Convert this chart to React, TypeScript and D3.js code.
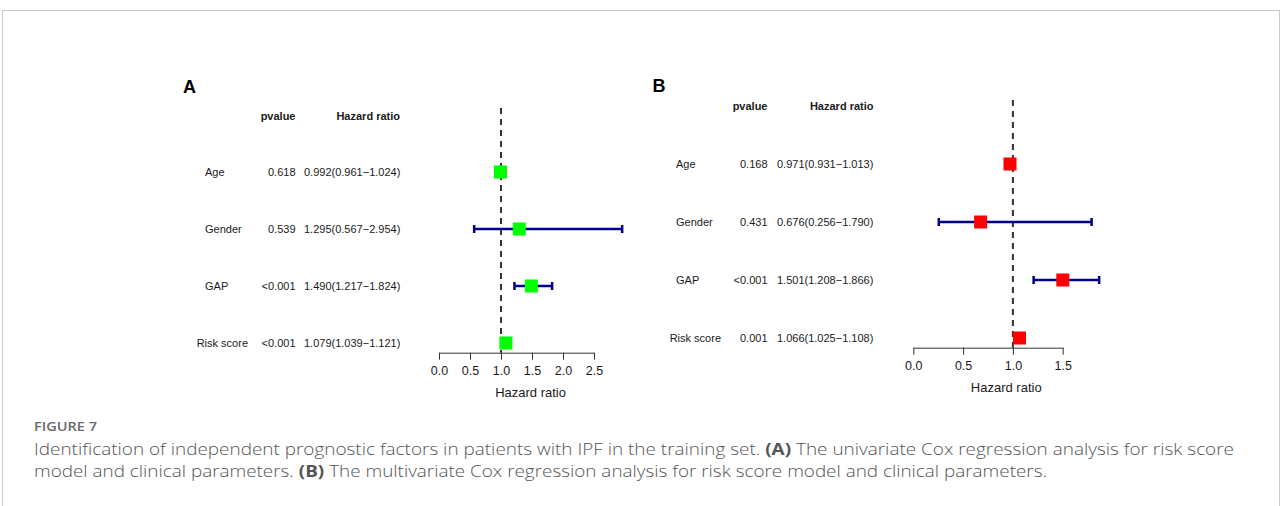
import React, { useEffect, useRef } from 'react';
import * as d3 from 'd3';

// Row labels (same for both panels)
const variables = ['Age', 'Gender', 'GAP', 'Risk score'];

// Panel A: univariate Cox regression
const pvaluesA = ['0.618', '0.539', '<0.001', '<0.001'];
const hrA = [0.992, 1.295, 1.49, 1.079];
const lowA = [0.961, 0.567, 1.217, 1.039];
const highA = [1.024, 2.954, 1.824, 1.121];
const ticksA = [0, 0.5, 1, 1.5, 2, 2.5];

// Panel B: multivariate Cox regression
const pvaluesB = ['0.168', '0.431', '<0.001', '0.001'];
const hrB = [0.971, 0.676, 1.501, 1.066];
const lowB = [0.931, 0.256, 1.208, 1.025];
const highB = [1.013, 1.79, 1.866, 1.108];
const ticksB = [0, 0.5, 1, 1.5];

const W = 1282;
const H = 506;
const FONT = '"Liberation Sans", Arial, sans-serif';

const panels = [
  {
    letter: 'A', pvals: pvaluesA, hr: hrA, low: lowA, high: highA, ticks: ticksA,
    color: '#00ff00', x0: 439, x1: 594, row0: 172, row1: 343, axisY: 352.7,
    labelX: 205, labelMax: 248, pX: 295.5, hrX: 304, hrEnd: 400, headerY: 119.5, letterX: 183, letterY: 92.5,
  },
  {
    letter: 'B', pvals: pvaluesB, hr: hrB, low: lowB, high: highB, ticks: ticksB,
    color: '#ff0000', x0: 913.3, x1: 1062.7, row0: 164, row1: 338, axisY: 347.7,
    labelX: 676, labelMax: 721, pX: 767.5, hrX: 777, hrEnd: 873.5, headerY: 109.5, letterX: 652.5, letterY: 92,
  },
];

const fmt = d3.format('.3f');

export default function App() {
  const svgRef = useRef<SVGSVGElement>(null);

  useEffect(() => {
    const svg = d3.select(svgRef.current);
    svg.selectAll('*').remove();

    // outer frame
    svg.append('rect')
      .attr('x', 2.5).attr('y', 10.5)
      .attr('width', W - 5).attr('height', H + 20)
      .attr('fill', 'white').attr('stroke', '#c8c8c8');

    panels.forEach(p => {
      const tmax = p.ticks[p.ticks.length - 1];
      const x = d3.scaleLinear().domain([0, tmax]).range([p.x0, p.x1]);
      const y = d3.scaleLinear().domain([0, variables.length - 1]).range([p.row0, p.row1]);
      const g = svg.append('g').attr('font-family', FONT).attr('fill', '#1a1a1a');

      g.append('text').attr('x', p.letterX).attr('y', p.letterY)
        .attr('font-size', 18).attr('font-weight', 700).attr('fill', '#000').text(p.letter);

      g.append('text').attr('x', p.pX).attr('y', p.headerY).attr('text-anchor', 'end')
        .attr('font-size', 11).attr('font-weight', 700).text('pvalue');
      g.append('text').attr('x', p.hrEnd).attr('y', p.headerY).attr('text-anchor', 'end')
        .attr('font-size', 11).attr('font-weight', 700).text('Hazard ratio');

      variables.forEach((v, i) => {
        const ty = y(i) + 4;
        const lab = g.append('text').attr('x', p.labelX).attr('y', ty).attr('font-size', 11).text(v);
        // long labels are pulled left so they end before the p-value column
        const w = (lab.node() as SVGTextElement).getComputedTextLength();
        if (p.labelX + w > p.labelMax) lab.attr('x', p.labelMax - w);
        g.append('text').attr('x', p.pX).attr('y', ty).attr('text-anchor', 'end')
          .attr('font-size', 11).text(p.pvals[i]);
        g.append('text').attr('x', p.hrX).attr('y', ty).attr('font-size', 11)
          .text(`${fmt(p.hr[i])}(${fmt(p.low[i])}\u2212${fmt(p.high[i])})`);
      });

      // reference line at HR = 1
      g.append('line')
        .attr('x1', x(1)).attr('x2', x(1))
        .attr('y1', p.row0 - 64).attr('y2', p.axisY)
        .attr('stroke', '#333').attr('stroke-width', 2).attr('stroke-dasharray', '6,5');

      // confidence intervals
      variables.forEach((v, i) => {
        const cy = y(i);
        const ci = g.append('g').attr('stroke', '#00008b').attr('stroke-width', 2.5);
        ci.append('line').attr('x1', x(p.low[i])).attr('x2', x(p.high[i]))
          .attr('y1', cy).attr('y2', cy);
        [p.low[i], p.high[i]].forEach(e => {
          ci.append('line').attr('x1', x(e)).attr('x2', x(e))
            .attr('y1', cy - 4).attr('y2', cy + 4);
        });
        g.append('rect')
          .attr('x', x(p.hr[i]) - 6.5).attr('y', cy - 6.5)
          .attr('width', 13).attr('height', 13)
          .attr('fill', p.color);
      });

      // axis
      const axis = d3.axisBottom(x)
        .tickValues(p.ticks)
        .tickFormat(d3.format('.1f') as any)
        .tickSize(7).tickSizeOuter(0).tickPadding(6);
      const ag = g.append('g').attr('transform', `translate(0,${p.axisY})`).call(axis);
      ag.selectAll('path, line').attr('stroke', '#333');
      ag.selectAll('text').attr('font-size', 12.5).attr('font-family', FONT).attr('fill', '#1a1a1a');

      const maxHigh = d3.max(p.high) as number;
      g.append('text')
        .attr('x', (x(0) + x(maxHigh)) / 2).attr('y', p.axisY + 44.5)
        .attr('text-anchor', 'middle').attr('font-size', 13).text('Hazard ratio');
    });

    // caption
    const cap = svg.append('g').attr('font-family', '"Open Sans", sans-serif');
    cap.append('text').attr('x', 34).attr('y', 431).attr('font-size', 13)
      .attr('font-weight', 600).attr('fill', '#6a6a6a')
      .attr('textLength', 63).attr('lengthAdjust', 'spacingAndGlyphs').text('FIGURE 7');
    const l1 = cap.append('text').attr('x', 34).attr('y', 455).attr('font-size', 16.5)
      .attr('font-weight', 300).attr('fill', '#555')
      .attr('textLength', 1200).attr('lengthAdjust', 'spacingAndGlyphs');
    l1.append('tspan').text('Identification of independent prognostic factors in patients with IPF in the training set. ');
    l1.append('tspan').attr('font-weight', 700).attr('fill', '#555').text('(A)');
    l1.append('tspan').text(' The univariate Cox regression analysis for risk score');
    const l2 = cap.append('text').attr('x', 34).attr('y', 477).attr('font-size', 16.5)
      .attr('font-weight', 300).attr('fill', '#555')
      .attr('textLength', 1013).attr('lengthAdjust', 'spacingAndGlyphs');
    l2.append('tspan').text('model and clinical parameters. ');
    l2.append('tspan').attr('font-weight', 700).attr('fill', '#555').text('(B)');
    l2.append('tspan').text(' The multivariate Cox regression analysis for risk score model and clinical parameters.');
  }, []);

  return (
    <svg ref={svgRef} width={W} height={H}
      style={{ position: 'fixed', left: 0, top: 0, background: 'white' }} />
  );
}
